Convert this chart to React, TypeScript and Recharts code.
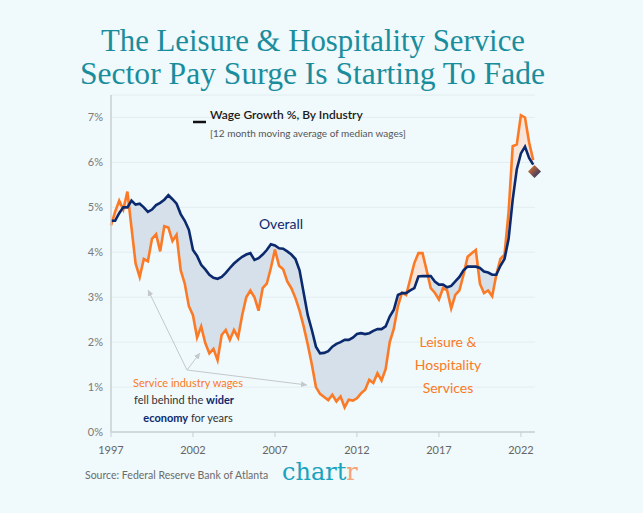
import {
  Area,
  CartesianGrid,
  ComposedChart,
  Line,
  Scatter,
  XAxis,
  YAxis,
} from "recharts";

// quarterly points, 1997 Q1 .. 2022 Q4
const years: number[] = [
  1997.0, 1997.25, 1997.5, 1997.75, 1998.0, 1998.25, 1998.5, 1998.75,
  1999.0, 1999.25, 1999.5, 1999.75, 2000.0, 2000.25, 2000.5, 2000.75,
  2001.0, 2001.25, 2001.5, 2001.75, 2002.0, 2002.25, 2002.5, 2002.75,
  2003.0, 2003.25, 2003.5, 2003.75, 2004.0, 2004.25, 2004.5, 2004.75,
  2005.0, 2005.25, 2005.5, 2005.75, 2006.0, 2006.25, 2006.5, 2006.75,
  2007.0, 2007.25, 2007.5, 2007.75, 2008.0, 2008.25, 2008.5, 2008.75,
  2009.0, 2009.25, 2009.5, 2009.75, 2010.0, 2010.25, 2010.5, 2010.75,
  2011.0, 2011.25, 2011.5, 2011.75, 2012.0, 2012.25, 2012.5, 2012.75,
  2013.0, 2013.25, 2013.5, 2013.75, 2014.0, 2014.25, 2014.5, 2014.75,
  2015.0, 2015.25, 2015.5, 2015.75, 2016.0, 2016.25, 2016.5, 2016.75,
  2017.0, 2017.25, 2017.5, 2017.75, 2018.0, 2018.25, 2018.5, 2018.75,
  2019.0, 2019.25, 2019.5, 2019.75, 2020.0, 2020.25, 2020.5, 2020.75,
  2021.0, 2021.25, 2021.5, 2021.75, 2022.0, 2022.25, 2022.5, 2022.75,
];

const overall: number[] = [
  4.7, 4.7, 4.87, 5.0, 5.0, 5.15, 5.06, 5.08,
  5.0, 4.9, 4.95, 5.05, 5.1, 5.17, 5.27, 5.18,
  5.08, 4.85, 4.7, 4.5, 4.05, 3.92, 3.72, 3.62,
  3.5, 3.43, 3.41, 3.45, 3.54, 3.65, 3.75, 3.83,
  3.9, 3.95, 3.98, 3.83, 3.87, 3.95, 4.05, 4.18,
  4.15, 4.09, 4.08, 4.02, 3.95, 3.85, 3.6, 3.1,
  2.6, 2.27, 1.9, 1.75, 1.76, 1.8, 1.9, 1.96,
  2.0, 2.05, 2.05, 2.1, 2.18, 2.2, 2.18, 2.2,
  2.25, 2.29, 2.29, 2.35, 2.57, 2.72, 3.05, 3.09,
  3.09, 3.15, 3.2, 3.46, 3.47, 3.47, 3.47, 3.35,
  3.28, 3.28, 3.22, 3.25, 3.35, 3.45, 3.6, 3.68,
  3.68, 3.68, 3.65, 3.57, 3.55, 3.5, 3.5, 3.7,
  3.85, 4.3, 5.17, 5.85, 6.2, 6.35, 6.1, 5.95,
];

const leisure: number[] = [
  4.6, 4.9, 5.15, 4.95, 5.35, 4.55, 3.75, 3.45,
  3.85, 3.8, 4.3, 4.4, 4.02, 4.58, 4.55, 4.25,
  4.39, 3.6, 3.3, 2.8, 2.6, 2.1, 2.35, 1.98,
  1.75, 1.85, 1.6, 2.16, 2.27, 2.05, 2.27, 2.1,
  2.6, 3.0, 3.15, 3.0, 2.7, 3.2, 3.3, 3.65,
  4.06, 3.7, 3.62, 3.35, 3.2, 2.98, 2.7, 2.35,
  1.95, 1.5, 1.0, 0.85, 0.78, 0.71, 0.83, 0.68,
  0.79, 0.55, 0.72, 0.7, 0.75, 0.86, 0.94, 1.16,
  1.09, 1.31, 1.15, 1.4, 2.0, 2.3, 2.8, 3.1,
  3.05, 3.4, 3.76, 3.98, 3.98, 3.6, 3.2, 3.1,
  2.95, 3.2, 3.15, 2.75, 3.05, 3.15, 3.5, 3.9,
  3.98, 4.05, 3.3, 3.09, 3.15, 3.02, 3.5, 3.85,
  3.95, 4.9, 6.36, 6.4, 7.05, 7.0, 6.45, 6.05,
];

const latestYear = 2022.83;
const latestValue = 5.8;

const yearTicks = [1997, 2002, 2007, 2012, 2017, 2022];
const pctTicks = [0, 1, 2, 3, 4, 5, 6, 7];

const NAVY = "#0b2a6e";
const ORANGE = "#fb7a26";
const TEAL = "#1a8d9d";
const BG = "#f0f9fb";

const rows = years.map((year, i) => {
  const o = overall[i];
  const l = leisure[i];
  const top = Math.max(o, l);
  return {
    year,
    overall: o,
    leisure: l,
    behind: [l, top] as [number, number],
    ahead: [o, top] as [number, number],
  };
});

const latest = [{ year: latestYear, latest: latestValue }];

function Diamond(props: { cx?: number; cy?: number }) {
  const { cx = 0, cy = 0 } = props;
  const r = 6.5;
  return (
    <path
      d={`M${cx},${cy - r} L${cx + r},${cy} L${cx},${cy + r} L${cx - r},${cy} Z`}
      fill="url(#diamondFill)"
    />
  );
}

export default function App() {
  const font = "Lato, 'Noto Sans', sans-serif";
  const titleFont = "'Liberation Serif', serif";
  return (
    <div
      style={{
        position: "fixed",
        left: 0,
        top: 0,
        width: 643,
        height: 513,
        background: BG,
        fontFamily: font,
        overflow: "hidden",
      }}
    >
      <ComposedChart
        width={643}
        height={513}
        data={rows}
        margin={{ top: 95, right: 108, bottom: 51, left: 76 }}
        style={{ position: "absolute", left: 0, top: 0 }}
      >
        <defs>
          <linearGradient id="diamondFill" x1="0" y1="0" x2="1" y2="1">
            <stop offset="0%" stopColor={ORANGE} />
            <stop offset="100%" stopColor={NAVY} />
          </linearGradient>
        </defs>
        <CartesianGrid vertical={false} stroke="#e2eef2" strokeWidth={1} />
        <XAxis
          dataKey="year"
          type="number"
          domain={[1997, 2022.86]}
          ticks={yearTicks}
          tick={{ fontSize: 11, fill: "#666", fontFamily: font }}
          tickLine={{ stroke: "#c9cfd2" }}
          tickSize={5}
          tickMargin={9}
          axisLine={{ stroke: "#c9cfd2", strokeWidth: 1.5 }}
        />
        <YAxis
          type="number"
          domain={[0, 7.5]}
          ticks={pctTicks}
          width={35}
          tick={{ fontSize: 11, fill: "#7a7a7a", fontFamily: font }}
          tickFormatter={(v: number) => `${v}%`}
          tickLine={false}
          axisLine={{ stroke: "#c9cfd2", strokeWidth: 1.5 }}
        />
        <Area
          dataKey="behind"
          type="linear"
          stroke="none"
          fill="#d5e0ea"
          fillOpacity={1}
          isAnimationActive={false}
        />
        <Area
          dataKey="ahead"
          type="linear"
          stroke="none"
          fill="#f8e4d8"
          fillOpacity={1}
          isAnimationActive={false}
        />
        <Line
          dataKey="leisure"
          type="linear"
          stroke={ORANGE}
          strokeWidth={2.6}
          dot={false}
          isAnimationActive={false}
        />
        <Line
          dataKey="overall"
          type="linear"
          stroke={NAVY}
          strokeWidth={2.6}
          dot={false}
          isAnimationActive={false}
        />
        <Scatter
          data={latest}
          dataKey="latest"
          shape={<Diamond />}
          isAnimationActive={false}
        />
      </ComposedChart>

      <svg
        width={643}
        height={513}
        style={{ position: "absolute", left: 0, top: 0, pointerEvents: "none" }}
      >
        <text
          x={101}
          y={51}
          textLength={424}
          lengthAdjust="spacingAndGlyphs"
          fontFamily={titleFont}
          fontSize={31}
          fill={TEAL}
        >
          The Leisure &amp; Hospitality Service
        </text>
        <text
          x={80}
          y={84}
          textLength={465}
          lengthAdjust="spacingAndGlyphs"
          fontFamily={titleFont}
          fontSize={31}
          fill={TEAL}
        >
          Sector Pay Surge Is Starting To Fade
        </text>

        <line x1={193} y1={122} x2={206} y2={122} stroke="#111" strokeWidth={2.5} />
        <text x={210} y={119} fontSize={12} fontWeight={600} fill="#1a1a1a" fontFamily={font}>
          Wage Growth %, By Industry
        </text>
        <text x={210} y={137} fontSize={10} fill="#555" fontFamily={font}>
          [12 month moving average of median wages]
        </text>

        <text x={281} y={229} textAnchor="middle" fontSize={14} fill={NAVY} fontFamily={font}>
          Overall
        </text>
        <text x={448} y={347} textAnchor="middle" fontSize={14} fill={ORANGE} fontFamily={font}>
          Leisure &amp;
        </text>
        <text x={448} y={370} textAnchor="middle" fontSize={14} fill={ORANGE} fontFamily={font}>
          Hospitality
        </text>
        <text x={448} y={393} textAnchor="middle" fontSize={14} fill={ORANGE} fontFamily={font}>
          Services
        </text>

        <defs>
          <marker id="arrowHead" markerWidth={8} markerHeight={8} refX={6} refY={3} orient="auto">
            <path d="M0,0 L6,3 L0,6 Z" fill="#c4c8ca" />
          </marker>
        </defs>
        <g stroke="#c4c8ca" strokeWidth={1} fill="none">
          <line x1={187} y1={370} x2={148} y2={290} markerEnd="url(#arrowHead)" />
          <line x1={187} y1={370} x2={200} y2={353} markerEnd="url(#arrowHead)" />
          <line x1={187} y1={370} x2={307} y2={385} markerEnd="url(#arrowHead)" />
        </g>
        <text x={188} y={387} textAnchor="middle" fontSize={11} fill={ORANGE} fontFamily={font}>
          Service industry wages
        </text>
        <text x={184} y={404} textAnchor="middle" fontSize={11} fill="#333" fontFamily={font}>
          fell behind the <tspan fill={NAVY} fontWeight={700}>wider</tspan>
        </text>
        <text x={188} y={422} textAnchor="middle" fontSize={11} fill="#333" fontFamily={font}>
          <tspan fill={NAVY} fontWeight={700}>economy</tspan> for years
        </text>

        <text x={85} y={479} fontSize={10.5} fill="#6b6b6b" fontFamily={font}>
          Source: Federal Reserve Bank of Atlanta
        </text>
        <text x={282} y={480} fontSize={24} fill="#1aa3bd" fontFamily="'DejaVu Serif', serif">
          chart<tspan fill="#f7a27a">r</tspan>
        </text>
      </svg>
    </div>
  );
}
